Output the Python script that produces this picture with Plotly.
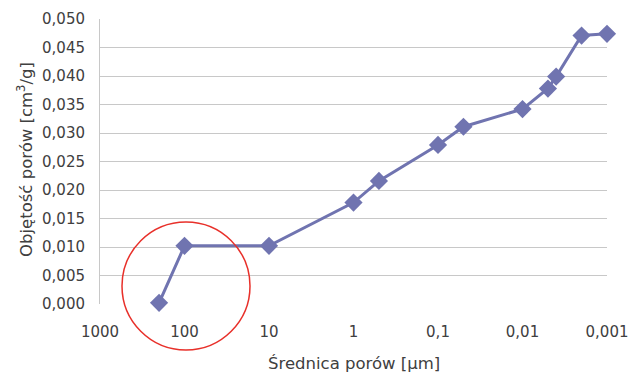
import plotly.graph_objects as go

diameter_um = [200, 100, 10, 1, 0.5, 0.1, 0.05, 0.01, 0.005, 0.004, 0.002, 0.001]
pore_volume = [0.0002, 0.0102, 0.0102, 0.0178, 0.0216, 0.0279, 0.0311, 0.0342, 0.0378, 0.0399, 0.0471, 0.0474]

x_tickvals = [1000, 100, 10, 1, 0.1, 0.01, 0.001]
x_ticktext = ["1000", "100", "10", "1", "0,1", "0,01", "0,001"]
y_tickvals = [0.000, 0.005, 0.010, 0.015, 0.020, 0.025, 0.030, 0.035, 0.040, 0.045, 0.050]
y_ticktext = ["0,000", "0,005", "0,010", "0,015", "0,020", "0,025", "0,030", "0,035", "0,040", "0,045", "0,050"]

x_title = "Średnica porów [μm]"
y_title = "Objętość porów [cm<sup>3</sup>/g]"

line_color = "#7074B0"
text_color = "#404040"
font_family = "DejaVu Sans"

fig = go.Figure()
fig.add_trace(go.Scatter(
    x=diameter_um, y=pore_volume, mode="lines+markers",
    line=dict(color=line_color, width=3),
    marker=dict(symbol="diamond", size=14, color=line_color),
    hoverinfo="skip", showlegend=False, cliponaxis=False,
))

W, H = 628, 374
ml, mr, mt, mb = 100, 21, 19, 70

fig.update_layout(
    width=W, height=H,
    margin=dict(l=ml, r=mr, t=mt, b=mb, pad=0),
    paper_bgcolor="white", plot_bgcolor="white",
    font=dict(family=font_family, color=text_color, size=15),
    xaxis=dict(
        type="log", range=[3, -3], automargin=False,
        tickvals=x_tickvals, ticktext=x_ticktext,
        showgrid=False, zeroline=False,
        showline=False, ticks="", ticklen=0,
        tickfont=dict(size=15), ticklabelstandoff=17,
        ticklabeloverflow="allow",
    ),
    yaxis=dict(
        range=[0, 0.050], automargin=False,
        tickvals=y_tickvals, ticktext=y_ticktext,
        showgrid=True, gridcolor="#c8c8c8", gridwidth=1,
        zeroline=False, showline=True, linecolor="#c8c8c8", linewidth=1,
        ticks="", ticklen=0,
        tickfont=dict(size=15), ticklabelstandoff=11,
        ticklabeloverflow="allow",
    ),
)

fig.add_annotation(
    text=x_title, xref="paper", yref="paper",
    x=0.5, y=-(363 - (H - mb)) / (H - mt - mb), xanchor="center", yanchor="middle",
    showarrow=False, font=dict(size=16.5),
)
fig.add_annotation(
    text=y_title, xref="paper", yref="paper", textangle=-90,
    x=-(ml - 25) / (W - ml - mr), y=((H - mb) - 160) / (H - mt - mb),
    xanchor="center", yanchor="middle",
    showarrow=False, font=dict(size=16.5),
)

# red circle highlighting the macro-pore region (paper coordinates)
pw = W - ml - mr
ph = H - mt - mb
cx, cy, rad = 186, 286, 64
fig.add_shape(
    type="circle", xref="paper", yref="paper",
    x0=(cx - rad - ml) / pw, x1=(cx + rad - ml) / pw,
    y0=(H - mb - (cy + rad)) / ph, y1=(H - mb - (cy - rad)) / ph,
    line=dict(color="#E8302A", width=1.5),
)

fig.write_html("out.html")
